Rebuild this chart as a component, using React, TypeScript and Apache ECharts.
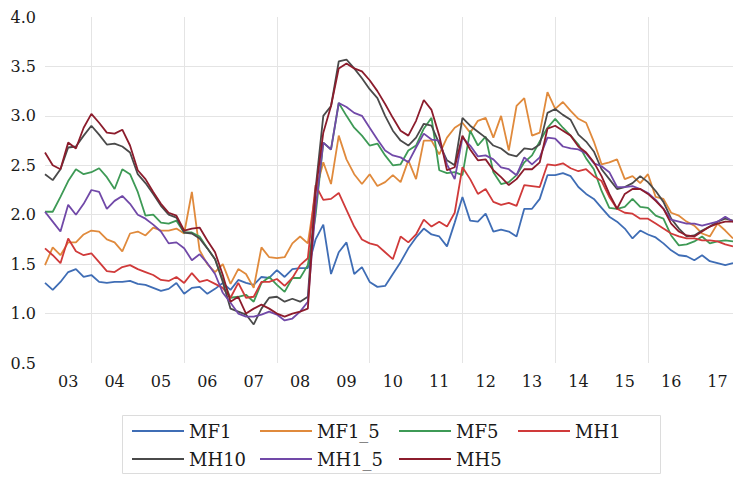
import React, { useEffect, useRef } from "react";
import * as echarts from "echarts";

// Bi-monthly observation dates, Jan 2003 .. Nov 2017
const dates: string[] = [];
for (let y = 2003; y <= 2017; y++) {
  for (const m of ["01", "03", "05", "07", "09", "11"]) dates.push(`${y}-${m}`);
}

const seriesNames = ["MF1", "MF1_5", "MF5", "MH1", "MH10", "MH1_5", "MH5"];

const MF1 = [
  1.31, 1.24, 1.32, 1.42, 1.45, 1.37, 1.39, 1.32, 1.31, 1.32,
  1.32, 1.33, 1.30, 1.29, 1.26, 1.23, 1.25, 1.31, 1.20, 1.26,
  1.27, 1.20, 1.25, 1.31, 1.24, 1.34, 1.31, 1.29, 1.37, 1.36,
  1.44, 1.37, 1.45, 1.46, 1.46, 1.75, 1.90, 1.40, 1.62, 1.72,
  1.40, 1.47, 1.32, 1.27, 1.28, 1.40, 1.52, 1.66, 1.77, 1.86,
  1.80, 1.78, 1.68, 1.92, 2.18, 1.94, 1.93, 2.01, 1.83, 1.85,
  1.83, 1.78, 2.06, 2.06, 2.16, 2.40, 2.40, 2.42, 2.39, 2.28,
  2.21, 2.16, 2.07, 1.98, 1.93, 1.86, 1.76, 1.84, 1.80, 1.77,
  1.71, 1.64, 1.59, 1.58, 1.54, 1.59, 1.53, 1.51, 1.49, 1.51,
];

const MF1_5 = [
  1.49, 1.67, 1.59, 1.72, 1.72, 1.80, 1.84, 1.83, 1.75, 1.72,
  1.63, 1.81, 1.83, 1.79, 1.87, 1.84, 1.84, 1.86, 1.81, 2.23,
  1.64, 1.50, 1.42, 1.50, 1.30, 1.45, 1.40, 1.26, 1.67, 1.57,
  1.56, 1.57, 1.71, 1.78, 1.71, 2.23, 2.53, 2.31, 2.80, 2.56,
  2.41, 2.31, 2.41, 2.29, 2.33, 2.40, 2.33, 2.55, 2.36, 2.75,
  2.75, 2.61, 2.78, 2.88, 2.93, 2.83, 2.95, 2.98, 2.78, 3.00,
  2.65, 3.10, 3.18, 2.80, 2.83, 3.24, 3.07, 3.14, 3.05, 2.97,
  2.93, 2.74, 2.51, 2.53, 2.56, 2.36, 2.39, 2.32, 2.41, 2.18,
  2.16, 2.02, 1.99, 1.93, 1.89, 1.81, 1.78, 1.91, 1.84, 1.76,
];

const MF5 = [
  2.03, 2.03, 2.18, 2.34, 2.46, 2.41, 2.43, 2.47, 2.38, 2.26,
  2.46, 2.41, 2.23, 1.99, 2.00, 1.92, 1.91, 1.94, 1.82, 1.82,
  1.78, 1.66, 1.55, 1.34, 1.16, 1.17, 1.19, 1.12, 1.31, 1.37,
  1.29, 1.22, 1.36, 1.36, 1.49, 1.99, 2.73, 2.66, 3.13, 3.00,
  2.88, 2.80, 2.70, 2.72, 2.60, 2.50, 2.51, 2.65, 2.70, 2.87,
  2.98, 2.45, 2.42, 2.43, 2.40, 2.85, 2.70, 2.79, 2.43, 2.31,
  2.33, 2.40, 2.53, 2.60, 2.74, 2.88, 2.97, 2.88, 2.80, 2.71,
  2.57, 2.46, 2.24, 2.07, 2.06, 2.08, 2.16, 2.08, 2.07, 1.99,
  1.96, 1.79, 1.69, 1.70, 1.73, 1.78, 1.71, 1.73, 1.74, 1.73,
];

const MH1 = [
  1.66, 1.59, 1.51, 1.76, 1.63, 1.59, 1.61, 1.52, 1.43, 1.42,
  1.47, 1.49, 1.45, 1.42, 1.39, 1.34, 1.33, 1.37, 1.31, 1.41,
  1.32, 1.34, 1.30, 1.26, 1.16, 1.31, 1.16, 1.17, 1.32, 1.32,
  1.35, 1.28, 1.36, 1.49, 1.56, 2.30, 2.15, 2.16, 2.22, 2.05,
  1.88, 1.75, 1.71, 1.69, 1.62, 1.55, 1.78, 1.72, 1.80, 1.95,
  1.88, 1.93, 1.88, 2.02, 2.48, 2.36, 2.21, 2.26, 2.13, 2.10,
  2.12, 2.09, 2.30, 2.29, 2.28, 2.51, 2.50, 2.52, 2.47, 2.44,
  2.46, 2.39, 2.34, 2.18, 2.06, 2.02, 2.01, 1.96, 1.96, 1.91,
  1.86, 1.81, 1.78, 1.76, 1.76, 1.74, 1.74, 1.73, 1.70, 1.68,
];

const MH10 = [
  2.41, 2.35, 2.46, 2.68, 2.69, 2.80, 2.90, 2.81, 2.71, 2.72,
  2.69, 2.63, 2.41, 2.32, 2.21, 2.09, 2.00, 1.97, 1.82, 1.81,
  1.76, 1.66, 1.55, 1.32, 1.05, 1.02, 0.99, 0.89, 1.05, 1.16,
  1.17, 1.12, 1.15, 1.12, 1.17, 2.26, 3.00, 3.10, 3.55, 3.57,
  3.48, 3.38, 3.27, 3.18, 3.00, 2.85, 2.75, 2.70, 2.78, 2.92,
  2.90, 2.72, 2.55, 2.50, 2.98, 2.90, 2.84, 2.78, 2.70, 2.67,
  2.61, 2.59, 2.67, 2.66, 2.71, 3.03, 3.07, 3.01, 2.96, 2.81,
  2.74, 2.64, 2.46, 2.36, 2.26, 2.28, 2.32, 2.39, 2.33, 2.24,
  2.13, 1.96, 1.86, 1.78, 1.79, 1.84, 1.88, 1.93, 1.96, 1.94,
];

const MH1_5 = [
  2.03, 1.93, 1.83, 2.10, 2.00, 2.11, 2.25, 2.23, 2.06, 2.14,
  2.19, 2.11, 2.00, 1.96, 1.90, 1.83, 1.71, 1.72, 1.66, 1.54,
  1.60, 1.51, 1.40, 1.21, 1.11, 1.00, 0.97, 0.97, 0.99, 1.02,
  0.99, 0.93, 0.95, 1.02, 1.12, 2.06, 2.73, 2.66, 3.13, 3.09,
  3.03, 3.00, 2.88, 2.76, 2.65, 2.60, 2.58, 2.53, 2.68, 2.82,
  2.76, 2.75, 2.51, 2.36, 2.78, 2.70, 2.59, 2.60, 2.56, 2.48,
  2.46, 2.40, 2.58, 2.51, 2.58, 2.78, 2.77, 2.69, 2.67, 2.66,
  2.62, 2.52, 2.49, 2.43, 2.28, 2.28, 2.29, 2.26, 2.22, 2.15,
  2.06, 1.95, 1.93, 1.91, 1.91, 1.89, 1.91, 1.93, 1.98, 1.93,
];

const MH5 = [
  2.63, 2.50, 2.46, 2.73, 2.67, 2.88, 3.02, 2.93, 2.83, 2.82,
  2.86, 2.70, 2.45, 2.36, 2.23, 2.11, 2.02, 1.99, 1.84, 1.86,
  1.87, 1.74, 1.62, 1.39, 1.12, 1.17, 1.00, 1.05, 1.09, 1.05,
  1.00, 0.97, 1.00, 1.02, 1.05, 2.23, 2.83, 3.10, 3.48, 3.53,
  3.48, 3.45, 3.36, 3.25, 3.12, 2.98, 2.85, 2.80, 2.95, 3.16,
  3.06, 2.80, 2.45, 2.48, 2.80, 2.66, 2.55, 2.56, 2.45, 2.38,
  2.30, 2.36, 2.46, 2.46, 2.53, 2.87, 2.90, 2.85, 2.80, 2.69,
  2.63, 2.53, 2.39, 2.21, 2.06, 2.21, 2.26, 2.26, 2.21, 2.14,
  2.06, 1.91, 1.83, 1.79, 1.78, 1.83, 1.88, 1.91, 1.93, 1.93,
];

const seriesValues = [MF1, MF1_5, MF5, MH1, MH10, MH1_5, MH5];
const colors = ["#3f6db5", "#e08a3c", "#3e9a56", "#d03a3a", "#4a4a4a", "#7149a8", "#8c1c2c"];

// legend layout: [left, top]
const legendPos: [number, number][] = [
  [132, 422], [260, 422], [399, 422], [518, 422],
  [132, 450], [260, 450], [399, 450],
];

const FONT = "DejaVu Serif";

export default function App() {
  const ref = useRef<HTMLDivElement>(null);
  useEffect(() => {
    if (!ref.current) return;
    const chart = echarts.init(ref.current, undefined, { renderer: "svg" });
    const gridColor = "#e4e4e4";
    chart.setOption({
      animation: false,
      backgroundColor: "#ffffff",
      textStyle: { fontFamily: FONT },
      grid: { left: 45, right: 0, top: 17, bottom: 114, containLabel: false },
      xAxis: {
        type: "category",
        data: dates,
        boundaryGap: false,
        axisLine: { show: false },
        axisTick: { show: false },
        axisLabel: {
          interval: (i: number) => i % 6 === 3,
          formatter: (v: string) => v.slice(2, 4),
          fontFamily: FONT,
          fontSize: 16,
          color: "#1a1a1a",
          margin: 10,
        },
        splitLine: {
          show: true,
          interval: (i: number) => i % 12 === 6,
          lineStyle: { color: gridColor, width: 1 },
        },
      },
      yAxis: {
        type: "value",
        min: 0.5,
        max: 4.0,
        interval: 0.5,
        axisLine: { show: false },
        axisTick: { show: false },
        axisLabel: {
          formatter: (v: number) => v.toFixed(1),
          fontFamily: FONT,
          fontSize: 16,
          color: "#1a1a1a",
          margin: 9,
        },
        splitLine: {
          show: true,
          lineStyle: {
            color: ["rgba(0,0,0,0)", gridColor, gridColor, gridColor, gridColor, gridColor, gridColor, "rgba(0,0,0,0)"],
            width: 1,
          },
        },
      },
      legend: seriesNames.map((n, k) => ({
        data: [n],
        left: legendPos[k][0],
        top: legendPos[k][1],
        padding: 0,
        itemWidth: 52,
        itemHeight: 2,
        icon: "rect",
        itemGap: 0,
        selectedMode: false,
        textStyle: { fontFamily: FONT, fontSize: 18, color: "#1a1a1a" },
      })),
      graphic: [
        {
          type: "rect",
          shape: { x: 122.5, y: 415.5, width: 538, height: 58 },
          style: { fill: "none", stroke: "#dcdcdc", lineWidth: 1 },
          silent: true,
        },
      ],
      series: seriesNames.map((n, k) => ({
        name: n,
        type: "line",
        data: seriesValues[k],
        symbol: "none",
        showSymbol: false,
        lineStyle: { color: colors[k], width: 1.8 },
        itemStyle: { color: colors[k] },
      })),
    });
    return () => chart.dispose();
  }, []);
  return (
    <div
      ref={ref}
      style={{ position: "fixed", left: 0, top: 0, width: 733, height: 477, background: "#fff" }}
    />
  );
}
